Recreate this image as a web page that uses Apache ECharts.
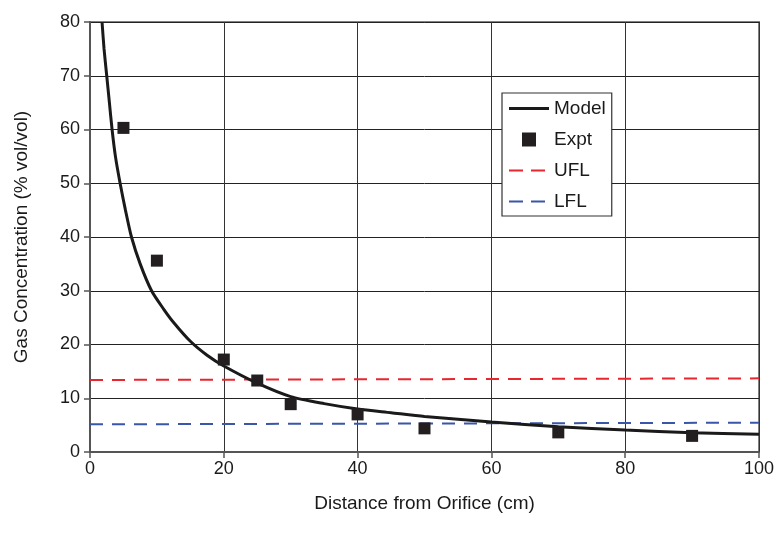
<!DOCTYPE html>
<html>
<head>
<meta charset="utf-8">
<script src="https://cdn.jsdelivr.net/npm/echarts@6/dist/echarts.min.js"></script>
<style>html,body{margin:0;padding:0;background:#fff}#c{width:780px;height:539px}</style>
</head>
<body>
<div id="c"></div>
<script>
// Model curve
var modelX = [1.8, 2.1, 2.5, 2.9, 3.3, 3.8, 4.5, 5.3, 6.2, 7.5, 9.2, 11, 12.5, 15, 17.5, 20, 25, 30, 35, 40, 45, 50, 60, 70, 80, 90, 100];
var modelY = [80, 75, 70, 65, 60, 55, 50, 45, 40, 35, 30, 26.6, 24.1, 20.6, 18.0, 16.0, 12.8, 10.3, 9.0, 8.0, 7.3, 6.6, 5.6, 4.7, 4.1, 3.6, 3.3];
// Experimental points
var exptX = [5, 10, 20, 25, 30, 40, 50, 70, 90];
var exptY = [60.3, 35.6, 17.2, 13.3, 8.9, 7.0, 4.4, 3.65, 3.0];
// Flammability limits
var uflX = [0, 100];
var uflY = [13.4, 13.7];
var lflX = [0, 100];
var lflY = [5.15, 5.45];

function pairs(xs, ys) { return xs.map(function (x, i) { return [x, ys[i]]; }); }

var chart = echarts.init(document.getElementById('c'), null, {renderer: 'canvas'});
var font = 'Liberation Sans, Arial, sans-serif';
chart.setOption({
  animation: false,
  backgroundColor: '#fff',
  grid: {left: 90, right: 21, top: 22, bottom: 87, show: true, borderColor: '#808080', borderWidth: 2, backgroundColor: 'transparent'},
  legend: {
    orient: 'vertical', left: 502, top: 93,
    padding: [6, 6, 5, 7],
    borderColor: '#333', borderWidth: 1.2, backgroundColor: '#fff',
    itemWidth: 40, itemHeight: 14, itemGap: 12,
    textStyle: {fontFamily: font, fontSize: 19, color: '#1a1a1a'},
    data: [
      {name: 'Model', icon: 'path://M0,0h40v3h-40z', itemStyle: {color: '#1a1a1a'}},
      {name: 'Expt', icon: 'path://M0,0h12v12h-12z', itemStyle: {color: '#231f20'}},
      {name: 'UFL', icon: 'path://M0,0h14v2h-14z M22,0h14v2h-14z M40,0h0.01v2h-0.01z', itemStyle: {color: '#e8262e'}},
      {name: 'LFL', icon: 'path://M0,0h14v2h-14z M22,0h14v2h-14z M40,0h0.01v2h-0.01z', itemStyle: {color: '#3a56a8'}}
    ]
  },
  xAxis: {
    type: 'value', min: 0, max: 100, interval: 20,
    name: 'Distance from Orifice (cm)', nameLocation: 'middle', nameGap: 42,
    nameTextStyle: {fontFamily: font, fontSize: 19, color: '#1a1a1a'},
    axisLine: {show: true, onZero: false, lineStyle: {color: '#555', width: 2}},
    axisTick: {show: true, length: 6, lineStyle: {color: '#555', width: 1.5}},
    axisLabel: {fontFamily: font, fontSize: 18, color: '#1a1a1a', margin: 8},
    splitLine: {show: true, lineStyle: {color: '#333', width: 1}}
  },
  yAxis: {
    type: 'value', min: 0, max: 80, interval: 10,
    name: 'Gas Concentration (% vol/vol)', nameLocation: 'middle', nameGap: 59, nameRotate: 90,
    nameTextStyle: {fontFamily: font, fontSize: 19, color: '#1a1a1a'},
    axisLine: {show: true, onZero: false, lineStyle: {color: '#555', width: 2}},
    axisTick: {show: true, length: 6, lineStyle: {color: '#555', width: 1.5}},
    axisLabel: {fontFamily: font, fontSize: 18, color: '#1a1a1a', margin: 10},
    splitLine: {show: true, lineStyle: {color: '#222', width: 1}}
  },
  series: [
    {name: 'Model', type: 'line', data: pairs(modelX, modelY), showSymbol: false, symbol: 'none',
     smooth: 0.25,
     lineStyle: {color: '#1a1a1a', width: 3}, itemStyle: {color: '#1a1a1a'}, z: 5},
    {name: 'Expt', type: 'scatter', data: pairs(exptX, exptY), symbol: 'rect', symbolSize: 12,
     itemStyle: {color: '#231f20', opacity: 1}, z: 6},
    {name: 'UFL', type: 'line', data: pairs(uflX, uflY), showSymbol: false, symbol: 'none',
     lineStyle: {color: '#e8262e', width: 2, type: [13, 9]}, itemStyle: {color: '#e8262e'}, z: 4},
    {name: 'LFL', type: 'line', data: pairs(lflX, lflY), showSymbol: false, symbol: 'none',
     lineStyle: {color: '#3a56a8', width: 2, type: [13, 9]}, itemStyle: {color: '#3a56a8'}, z: 4}
  ]
});
</script>
</body>
</html>
